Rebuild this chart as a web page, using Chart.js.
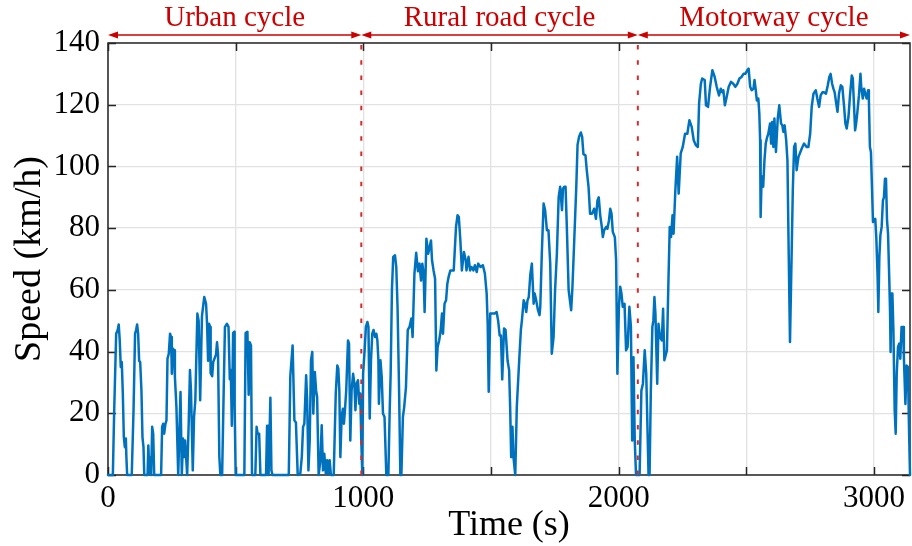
<!DOCTYPE html>
<html>
<head>
<meta charset="utf-8">
<title>Speed profile</title>
<script src="https://cdn.jsdelivr.net/npm/chart.js@4.4.1/dist/chart.umd.min.js"></script>
<style>
  html, body { margin: 0; padding: 0; background: #ffffff; }
  #wrap { width: 912px; height: 546px; }
</style>
</head>
<body>
<div id="wrap"><canvas id="c" width="912" height="546"></canvas></div>
<script>
// Vehicle speed trace (s, km/h)
const timeSec = [
  0, 19, 24, 32, 38, 42, 46, 50, 54, 58, 62, 66, 70, 72, 75, 93, 100, 106, 110, 114,
  118, 122, 126, 131, 135, 139, 142, 155, 158, 162, 166, 169, 173, 177, 181, 208, 212, 216, 220, 225,
  229, 233, 238, 243, 247, 250, 254, 259, 262, 268, 275, 278, 284, 289, 294, 298, 302, 306, 310, 316,
  321, 325, 332, 337, 342, 350, 355, 361, 368, 377, 384, 388, 392, 396, 400, 402, 408, 412, 417, 423,
  427, 431, 436, 440, 447, 453, 458, 466, 472, 477, 481, 485, 490, 494, 496, 500, 534, 539, 546, 551,
  555, 560, 564, 577, 582, 586, 592, 597, 619, 623, 627, 629, 636, 640, 644, 708, 714, 723, 730, 736,
  743, 753, 759, 764, 769, 776, 780, 785, 790, 795, 800, 804, 810, 815, 819, 825, 832, 837, 842, 847,
  853, 858, 863, 868, 873, 884, 892, 898, 902, 906, 910, 915, 920, 924, 928, 933, 940, 944, 949, 954,
  960, 965, 969, 974, 979, 984, 988, 992, 996, 999, 1005, 1010, 1016, 1020, 1025, 1030, 1035, 1040, 1046, 1051,
  1055, 1059, 1061, 1067, 1072, 1077, 1083, 1090, 1098, 1103, 1107, 1112, 1117, 1124, 1129, 1134, 1140, 1145, 1149, 1155,
  1160, 1167, 1174, 1181, 1188, 1193, 1200, 1207, 1214, 1220, 1226, 1231, 1236, 1240, 1247, 1254, 1265, 1269, 1275, 1281,
  1286, 1291, 1297, 1303, 1308, 1312, 1318, 1324, 1329, 1334, 1341, 1354, 1363, 1369, 1374, 1380, 1386, 1394, 1401, 1404,
  1412, 1418, 1424, 1431, 1437, 1444, 1450, 1459, 1468, 1476, 1483, 1487, 1491, 1497, 1514, 1522, 1528, 1534, 1539, 1544,
  1551, 1557, 1565, 1571, 1575, 1579, 1584, 1588, 1595, 1601, 1611, 1617, 1621, 1628, 1633, 1638, 1643, 1648, 1654, 1660,
  1667, 1671, 1677, 1684, 1690, 1693, 1699, 1706, 1712, 1719, 1725, 1732, 1738, 1745, 1751, 1758, 1765, 1771, 1778, 1782,
  1787, 1792, 1797, 1804, 1809, 1814, 1819, 1826, 1834, 1839, 1845, 1852, 1857, 1862, 1870, 1875, 1882, 1888, 1896, 1904,
  1911, 1917, 1922, 1928, 1934, 1938, 1943, 1951, 1956, 1962, 1967, 1972, 1977, 1985, 1990, 1995, 2001, 2006, 2011, 2016,
  2023, 2029, 2035, 2042, 2048, 2053, 2058, 2063, 2068, 2082, 2089, 2095, 2102, 2108, 2117, 2121, 2126, 2132, 2136, 2140,
  2144, 2151, 2156, 2162, 2169, 2174, 2179, 2189, 2195, 2200, 2205, 2211, 2215, 2222, 2229, 2235, 2243, 2251, 2260, 2269,
  2277, 2286, 2294, 2302, 2310, 2315, 2322, 2327, 2337, 2342, 2350, 2358, 2367, 2376, 2384, 2393, 2400, 2406, 2410, 2416,
  2423, 2431, 2440, 2449, 2457, 2465, 2473, 2481, 2489, 2496, 2504, 2509, 2515, 2521, 2528, 2532, 2537, 2541, 2547, 2551,
  2554, 2556, 2560, 2566, 2571, 2576, 2580, 2586, 2593, 2597, 2601, 2606, 2610, 2616, 2623, 2629, 2636, 2641, 2645, 2650,
  2656, 2661, 2666, 2671, 2676, 2682, 2687, 2692, 2697, 2704, 2717, 2726, 2736, 2743, 2750, 2756, 2763, 2772, 2778, 2785,
  2791, 2798, 2804, 2812, 2819, 2825, 2830, 2836, 2841, 2846, 2851, 2857, 2863, 2870, 2876, 2883, 2888, 2893, 2900, 2906,
  2913, 2917, 2922, 2926, 2930, 2935, 2941, 2947, 2950, 2956, 2961, 2966, 2971, 2977, 2980, 2984, 2988, 2992, 2996, 3000,
  3005, 3009, 3014, 3017, 3021, 3025, 3030, 3035, 3039, 3043, 3047, 3051, 3055, 3060, 3063, 3065, 3068, 3072, 3076, 3081,
  3085, 3089, 3094, 3099, 3103, 3108, 3114, 3117, 3123, 3128, 3133, 3137, 3141
];
const speedKmh = [
  0, 0, 20, 45.8, 47, 48.8, 43.6, 35, 36.6, 26.4, 12.3, 9, 11.8, 5.8, 0, 0, 21, 45.8, 47, 48.8,
  45.8, 37, 36.6, 27.4, 12.3, 9, 0, 0, 9.6, 0.4, 5.8, 0, 15.6, 13.4, 0, 0, 15.6, 16.6, 13.4, 16.6,
  17.7, 37.7, 39.3, 45.8, 44.7, 32.8, 41, 40.4, 31.8, 22, 0, 0, 26.9, 0, 11.8, 5.8, 11.2, 5.8, 0, 16.6,
  34, 27.4, 1.5, 18.8, 24.2, 52.3, 50, 24.2, 51.5, 57.7, 55.5, 49, 37, 49, 48, 33, 32, 36.6, 37.7, 39,
  43, 39, 6, 0, 0, 27, 48, 49, 48, 31, 34, 16, 46, 46.4, 22, 0, 0, 46, 46.4, 26,
  43, 42, 0, 0, 15.6, 13.4, 13.4, 0, 0, 16, 16, 0, 25, 1.5, 0, 0, 32, 42, 17.7, 17,
  0, 0.4, 5.8, 15.6, 16.6, 32.3, 24.2, 1.5, 11.2, 37.2, 39.9, 19.9, 33.4, 27.4, 25.3, 0, 4.8, 16.1, 1.5, 6.9,
  0.4, 4.8, 0.4, 4.8, 0, 0, 26.4, 35.5, 34.5, 27.4, 5.8, 18.8, 21.5, 16.6, 21, 27.4, 43.6, 42.6, 11.2, 27.4,
  32.8, 29.6, 21, 29.6, 30.7, 23.1, 26.4, 11.2, 0, 32.8, 40.4, 48, 49.6, 48, 18.3, 37.2, 45.8, 47, 44.7, 45.8,
  43.6, 37.2, 23.1, 37.2, 31.8, 19.9, 18.8, 0, 0, 19.9, 32.8, 59.9, 70.7, 71.2, 67.4, 54.5, 27.4, 0, 0, 18.8,
  22, 28.5, 47, 48, 50.7, 44.7, 65, 72, 66, 68.5, 63, 68.5, 65.3, 52.8, 76.6, 71.7, 76, 69.6, 66.3, 63.6,
  33.9, 41.5, 43.6, 46.9, 52.3, 45.8, 55.5, 56.6, 62, 64.2, 66.3, 66.3, 80.4, 84.2, 83.6, 76, 66.3, 72.3, 69.6, 66.3,
  70.7, 66.3, 67.4, 66.3, 68, 65.8, 68.5, 67.4, 68, 65.3, 58.8, 49, 27, 52.3, 52.3, 52.8, 50, 45.2, 45.2, 31,
  47.5, 47, 37, 34, 22, 5.8, 15.6, 5.8, 0, 22, 38, 47, 50, 56.6, 55.5, 52.8, 56.6, 57.7, 65, 68.5,
  55.5, 58.8, 56.6, 53.4, 51.8, 54.5, 71.7, 88, 85.8, 79.3, 79.3, 68.5, 39.3, 44.7, 60, 71.7, 90, 93.4, 85.8, 92.8,
  93.4, 93.4, 80.4, 60, 56.6, 53.4, 61, 76, 93.4, 107, 109.6, 111, 109.6, 104, 103.6, 98.8, 93.4, 84.7, 84.7, 86.3,
  83, 89, 90, 84, 80.4, 77.1, 79.3, 80.4, 79.8, 82.5, 86.3, 84.7, 78.8, 77.1, 69.6, 32.8, 54.5, 61, 58.8, 54.5,
  55.5, 40.4, 41.5, 54.5, 48, 11.2, 38.2, 11.2, 0, 0, 27.4, 29.6, 40.4, 32.8, 0, 0, 27.4, 48, 50.1, 57.7,
  52.3, 29.6, 49, 44.7, 43.6, 53.9, 37.2, 40.4, 63.1, 80.4, 77.1, 84.2, 78.2, 92.3, 103.1, 91.2, 104.2, 106.3, 110.6, 110.6,
  115, 112.8, 108.5, 106.9, 106.3, 120.4, 126.8, 128.5, 128, 119.8, 119.3, 125.8, 131.2, 129, 125.8, 123, 125.2, 124, 124.7, 119.8,
  122.5, 125.8, 127.4, 126.8, 125.8, 126.8, 128.5, 129, 130, 130, 131.2, 131.7, 125.8, 124.7, 125.2, 128, 124.7, 121.4, 122, 117,
  108.5, 83.6, 96.8, 93.4, 102, 107.4, 109, 110.6, 113.9, 107.4, 114.4, 106.3, 115.5, 104.7, 115.5, 119.8, 113.9, 113.3, 111.2, 113.3,
  108.5, 102, 71.7, 43.1, 65.3, 92.3, 106.3, 107.4, 98.8, 103, 105.8, 107.4, 106.3, 106.3, 110.6, 119.3, 123.6, 124.7, 122, 119.3,
  123, 124, 124, 123.6, 126.3, 129, 130, 126.8, 125.2, 124, 121, 117.7, 123.6, 126.3, 125.8, 119.3, 113.9, 112.3, 116, 123,
  129.5, 128.5, 119.3, 111.7, 113.9, 117.7, 123, 130, 125.8, 122, 125.2, 123.6, 122, 124.7, 121.4, 106.3, 104.7, 93.4, 82, 82.5,
  83, 77, 64.7, 52.8, 70.7, 77.7, 80.4, 89, 90, 96, 96, 82.5, 78.2, 63, 52.3, 39.9, 58.8, 58.8, 47, 21,
  13.4, 32.8, 41.5, 42.6, 37.7, 48, 48, 38.2, 23, 35.5, 35, 15.6, 0
];

// Axis ticks
const xTickValues = [0, 500, 1000, 1500, 2000, 2500, 3000];
const xTickLabels = ['0', '', '1000', '', '2000', '', '3000'];
const yTickValues = [0, 20, 40, 60, 80, 100, 120, 140];

// Driving phases and their time boundaries (s)
const phaseNames = ['Urban cycle', 'Rural road cycle', 'Motorway cycle'];
const phaseBounds = [0, 992, 2075, 3141];

const SERIF = "'Liberation Serif', 'Times New Roman', serif";
const PHASE_RED = '#cc0000';

const points = timeSec.map((t, i) => ({ x: t, y: speedKmh[i] }));

// Box frame, inward tick marks, phase dividers and the phase arrows above the axes
const decorations = {
  id: 'decorations',
  beforeDatasetsDraw(chart) {
    const { ctx, chartArea: a, scales: { x, y } } = chart;
    ctx.save();
    ctx.strokeStyle = '#262626';
    ctx.lineWidth = 1.5;
    ctx.strokeRect(a.left, a.top, a.right - a.left, a.bottom - a.top);
    const L = 8;
    ctx.beginPath();
    xTickValues.forEach(v => {
      const px = Math.round(x.getPixelForValue(v)) + 0.5;
      ctx.moveTo(px, a.bottom); ctx.lineTo(px, a.bottom - L);
      ctx.moveTo(px, a.top); ctx.lineTo(px, a.top + L);
    });
    yTickValues.forEach(v => {
      const py = Math.round(y.getPixelForValue(v)) + 0.5;
      ctx.moveTo(a.left, py); ctx.lineTo(a.left + L, py);
      ctx.moveTo(a.right, py); ctx.lineTo(a.right - L, py);
    });
    ctx.stroke();
    ctx.restore();
  },
  afterDatasetsDraw(chart) {
    const { ctx, chartArea: a, scales: { x } } = chart;
    ctx.save();
    // dotted phase dividers
    ctx.strokeStyle = '#d42a2a';
    ctx.lineWidth = 2;
    ctx.setLineDash([4.5, 10.7]);
    [phaseBounds[1], phaseBounds[2]].forEach(t => {
      const px = x.getPixelForValue(t);
      ctx.beginPath();
      ctx.moveTo(px, a.top + 2);
      ctx.lineTo(px, a.bottom);
      ctx.stroke();
    });
    ctx.setLineDash([]);

    // double-headed arrows with phase names
    const ay = 35, head = 10, half = 3.5;
    ctx.strokeStyle = PHASE_RED;
    ctx.fillStyle = PHASE_RED;
    ctx.lineWidth = 1.6;
    ctx.font = '29px ' + SERIF;
    ctx.textAlign = 'center';
    ctx.textBaseline = 'alphabetic';
    for (let i = 0; i < phaseNames.length; i++) {
      const x1 = x.getPixelForValue(phaseBounds[i]);
      const x2 = x.getPixelForValue(phaseBounds[i + 1]);
      ctx.beginPath();
      ctx.moveTo(x1 + head - 1, ay);
      ctx.lineTo(x2 - head + 1, ay);
      ctx.stroke();
      ctx.beginPath();
      ctx.moveTo(x1, ay); ctx.lineTo(x1 + head, ay - half); ctx.lineTo(x1 + head, ay + half); ctx.closePath();
      ctx.moveTo(x2, ay); ctx.lineTo(x2 - head, ay - half); ctx.lineTo(x2 - head, ay + half); ctx.closePath();
      ctx.fill();
      ctx.fillText(phaseNames[i], (x1 + x2) / 2, 26);
    }
    ctx.restore();
  }
};

new Chart(document.getElementById('c'), {
  type: 'line',
  data: {
    datasets: [{
      data: points,
      borderColor: '#0072bd',
      borderWidth: 2.5,
      pointRadius: 0,
      tension: 0,
      borderJoinStyle: 'round',
      borderCapStyle: 'round',
      clip: 4
    }]
  },
  options: {
    responsive: false,
    animation: false,
    devicePixelRatio: 1,
    layout: { padding: { top: 43, right: 2, left: 0, bottom: 0 } },
    plugins: { legend: { display: false }, tooltip: { enabled: false } },
    scales: {
      x: {
        type: 'linear',
        min: 0,
        max: phaseBounds[3],
        afterBuildTicks(scale) {
          scale.ticks = xTickValues.map(v => ({ value: v }));
        },
        afterFit(scale) { scale.height = 71; },
        grid: { color: '#e2e2e2', lineWidth: 1.3, drawTicks: false },
        border: { display: false },
        ticks: {
          autoSkip: false,
          maxRotation: 0,
          padding: 5,
          color: '#000',
          font: { family: SERIF, size: 31 },
          callback(value) {
            const i = xTickValues.indexOf(value);
            return i >= 0 ? xTickLabels[i] : '';
          }
        },
        title: {
          display: true,
          text: 'Time (s)',
          color: '#000',
          font: { family: SERIF, size: 36, lineHeight: 1 },
          padding: { top: 0, bottom: 2 }
        }
      },
      y: {
        type: 'linear',
        min: 0,
        max: 140,
        afterBuildTicks(scale) {
          scale.ticks = yTickValues.map(v => ({ value: v }));
        },
        afterFit(scale) { scale.width = 108; },
        grid: { color: '#e2e2e2', lineWidth: 1.3, drawTicks: false },
        border: { display: false },
        ticks: {
          padding: 8,
          color: '#000',
          font: { family: SERIF, size: 31 }
        },
        title: {
          display: true,
          text: 'Speed (km/h)',
          color: '#000',
          font: { family: SERIF, size: 38, lineHeight: 1 },
          padding: { top: 11, bottom: 0 }
        }
      }
    }
  },
  plugins: [decorations]
});
</script>
</body>
</html>
